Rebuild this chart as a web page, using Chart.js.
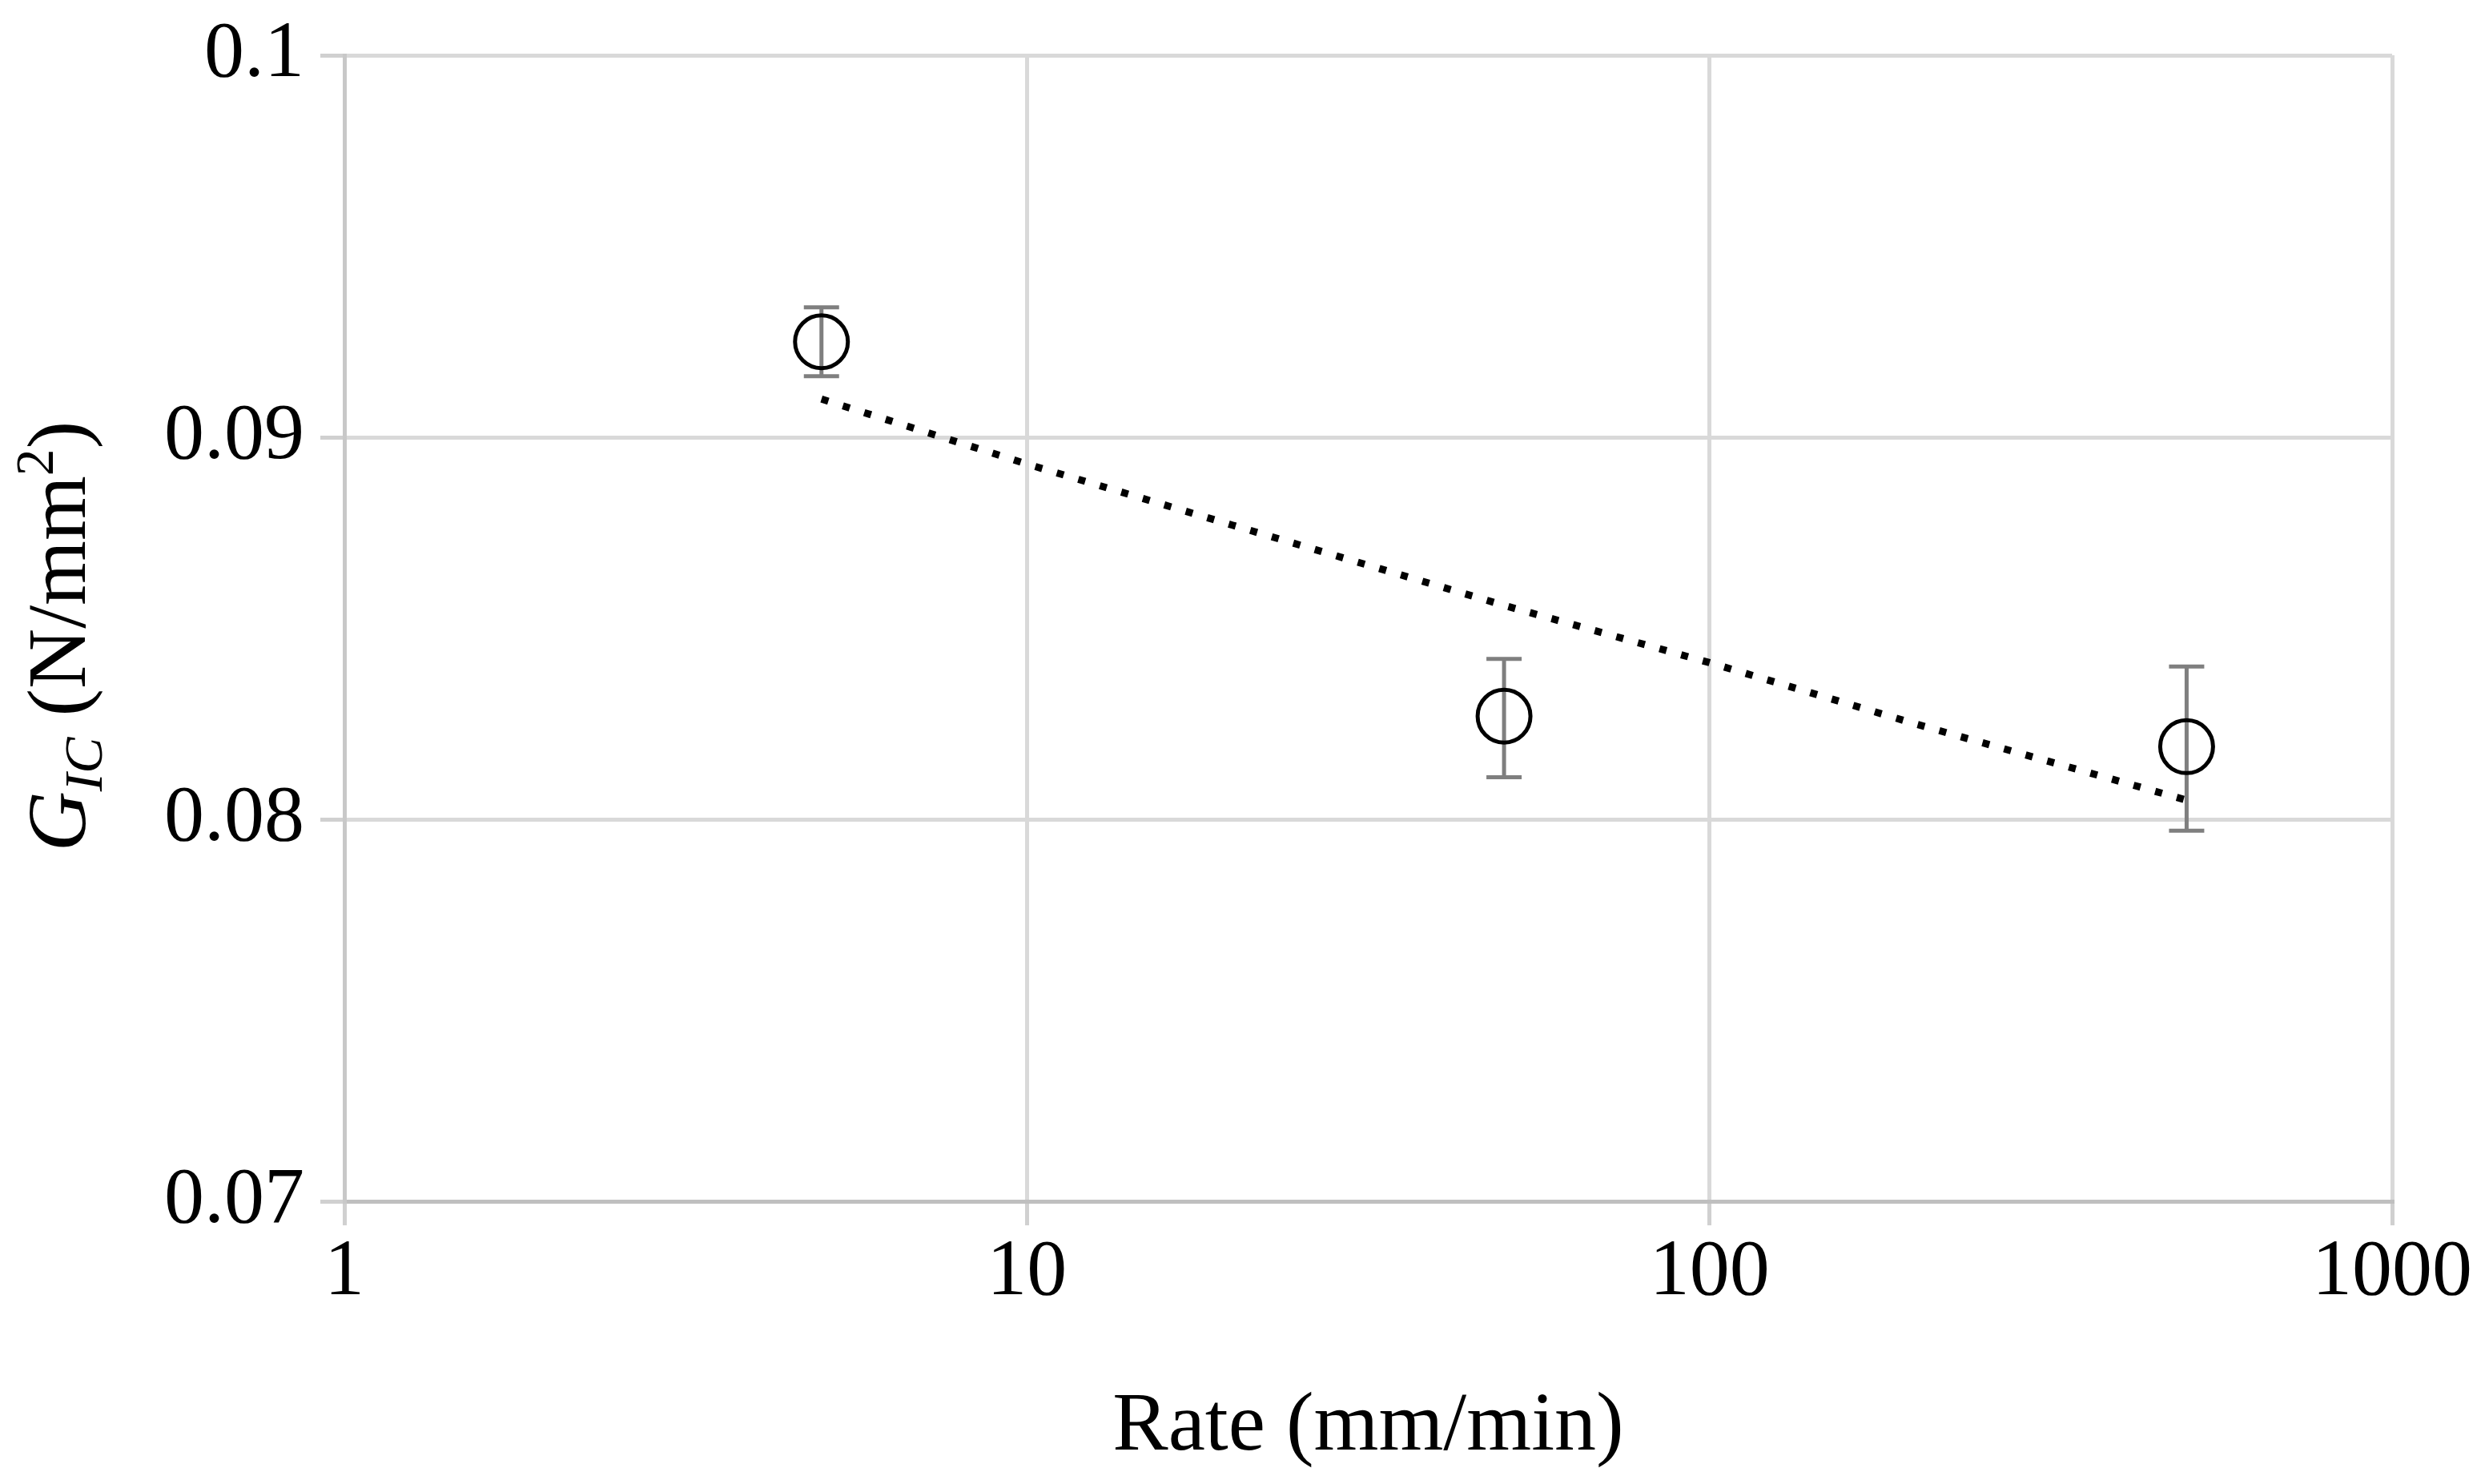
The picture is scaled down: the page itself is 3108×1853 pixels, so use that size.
<!DOCTYPE html>
<html>
<head>
<meta charset="utf-8">
<script src="https://cdn.jsdelivr.net/npm/chart.js@4.4.1/dist/chart.umd.min.js"></script>
<style>
  html, body { margin: 0; padding: 0; background: #fff; }
  #wrap { width: 3108px; height: 1853px; position: relative; }
</style>
</head>
<body>
<div id="wrap"><canvas id="grafico"></canvas></div>
<script>
// dados
const rates = [5, 50, 500];            // mm/min
const gic = [0.0925, 0.0827, 0.0819];  // N/mm2
const errUp = [0.0009, 0.0015, 0.0021];
const errDown = [0.0009, 0.0016, 0.0022];

// linha de tendência (pontilhada)
const trendRates = [5, 10, 20, 50, 100, 200, 500];
const trendGic = [0.0910, 0.0893, 0.0877, 0.0856, 0.0841, 0.0825, 0.0805];

const xTicks = [1, 10, 100, 1000];
const yTicks = [0.07, 0.08, 0.09, 0.1];

const FONTE = '"Liberation Serif", "Times New Roman", serif';

// barras de erro desenhadas antes dos círculos
const barrasErro = {
    id: 'barrasErro',
    beforeDatasetsDraw(chart) {
        const { ctx, scales: { x, y } } = chart;
        ctx.save();
        ctx.strokeStyle = '#7f7f7f';
        ctx.lineWidth = 5;
        rates.forEach((r, i) => {
            const px = x.getPixelForValue(r);
            const yt = y.getPixelForValue(gic[i] + errUp[i]);
            const yb = y.getPixelForValue(gic[i] - errDown[i]);
            const cap = 22;
            ctx.beginPath();
            ctx.moveTo(px, yt); ctx.lineTo(px, yb);
            ctx.moveTo(px - cap, yt); ctx.lineTo(px + cap, yt);
            ctx.moveTo(px - cap, yb); ctx.lineTo(px + cap, yb);
            ctx.stroke();
        });
        ctx.restore();
    }
};

// título do eixo Y com itálico, subscrito e sobrescrito
const tituloY = {
    id: 'tituloY',
    afterDraw(chart) {
        const { ctx, chartArea } = chart;
        const tam = 104;
        const partes = [
            { t: 'G', f: `italic ${tam}px ${FONTE}`, dy: 0 },
            { t: 'IC', f: `italic ${tam * 0.65}px ${FONTE}`, dy: tam * 0.2 },
            { t: ' (N/mm', f: `${tam}px ${FONTE}`, dy: 0 },
            { t: '2', f: `${tam * 0.65}px ${FONTE}`, dy: -tam * 0.38 },
            { t: ')', f: `${tam}px ${FONTE}`, dy: 0 }
        ];
        let total = 0;
        partes.forEach(p => { ctx.font = p.f; p.w = ctx.measureText(p.t).width; total += p.w; });
        const cy = (chartArea.top + chartArea.bottom) / 2 + 10;
        ctx.save();
        ctx.translate(106, cy);
        ctx.rotate(-Math.PI / 2);
        ctx.fillStyle = '#000';
        ctx.textBaseline = 'alphabetic';
        let xx = -total / 2;
        partes.forEach(p => {
            ctx.font = p.f;
            ctx.fillText(p.t, xx, p.dy);
            xx += p.w;
        });
        ctx.restore();
    }
};

const ctx = document.getElementById('grafico').getContext('2d');
new Chart(ctx, {
    data: {
        datasets: [
            {
                type: 'scatter',
                label: 'GIC',
                data: rates.map((r, i) => ({ x: r, y: gic[i] })),
                pointStyle: 'circle',
                pointRadius: 33,
                pointBorderWidth: 5,
                pointBorderColor: '#000',
                pointBackgroundColor: 'rgba(0,0,0,0)',
                order: 1
            },
            {
                type: 'line',
                label: 'Tendência',
                data: trendRates.map((r, i) => ({ x: r, y: trendGic[i] })),
                borderColor: '#000',
                borderWidth: 9,
                borderDash: [9, 19],
                borderCapStyle: 'butt',
                pointRadius: 0,
                fill: false,
                tension: 0,
                order: 2
            }
        ]
    },
    options: {
        responsive: true,
        maintainAspectRatio: false,
        animation: false,
        layout: { padding: { top: 69, right: 121, left: 0, bottom: 0 } },
        plugins: {
            legend: { display: false },
            tooltip: { enabled: false }
        },
        scales: {
            x: {
                type: 'logarithmic',
                min: 1,
                max: 1000,
                afterBuildTicks: (s) => { s.ticks = xTicks.map(v => ({ value: v })); },
                afterFit: (s) => { s.height = 353; s.paddingLeft = 0; s.paddingRight = 0; },
                grid: { color: '#d9d9d9', lineWidth: 5, tickLength: 30, tickColor: '#d0d0d0' },
                border: { color: '#bfbfbf', width: 5 },
                ticks: {
                    color: '#000',
                    font: { family: FONTE, size: 100 },
                    padding: 0,
                    maxRotation: 0,
                    callback: (v) => String(v)
                },
                title: {
                    display: true,
                    text: 'Rate (mm/min)',
                    color: '#000',
                    font: { family: FONTE, size: 104 },
                    padding: { top: 0, bottom: 8 }
                }
            },
            y: {
                min: 0.07,
                max: 0.1,
                afterBuildTicks: (s) => { s.ticks = yTicks.map(v => ({ value: v })); },
                afterFit: (s) => { s.width = 430; s.paddingTop = 0; s.paddingBottom = 0; },
                grid: { color: '#d9d9d9', lineWidth: 5, tickLength: 30, tickColor: '#d0d0d0' },
                border: { color: '#c8c8c8', width: 5 },
                ticks: {
                    color: '#000',
                    font: { family: FONTE, size: 100 },
                    padding: 20,
                    callback: (v) => String(Math.round(v * 100) / 100)
                }
            }
        }
    },
    plugins: [barrasErro, tituloY]
});
</script>
</body>
</html>
